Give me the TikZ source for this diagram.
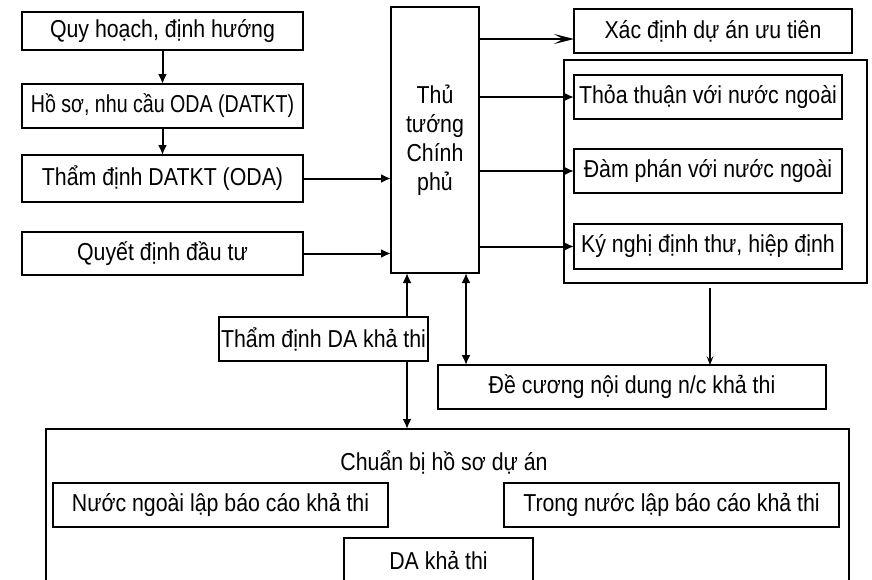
\documentclass[tikz,border=0pt]{standalone}
\usepackage{fontspec}
\usepackage{graphicx}
\setmainfont[FakeStretch=0.87]{Liberation Sans}
\usetikzlibrary{arrows.meta}
\begin{document}
\begin{tikzpicture}[x=1pt,y=-1pt,
  box/.style={draw, line width=2pt, fill=white, inner sep=1pt, outer sep=0pt,
    font=\fontsize{24.5}{29}\selectfont},
  txt/.style={inner sep=0pt, font=\fontsize{24.5}{29}\selectfont},
  arr/.style={line width=2pt, -{Latex[length=10pt,width=9pt]}},
  darr/.style={line width=2pt, {Latex[length=10pt,width=9pt]}-{Latex[length=10pt,width=9pt]}},
  openarr/.style={line width=2pt, -{Stealth[length=20pt,width=10pt,inset=9pt]}},
  thinarr/.style={line width=1.2pt, -{Stealth[length=9pt,width=7pt,inset=4pt]}}]
\fill[white] (0,0) rectangle (872,579);
\useasboundingbox (0,0) rectangle (872,579);
\clip (0,0) rectangle (872,579);

% left column
\node[box, minimum width=281pt, minimum height=38pt] (quy) at (162.5,31) {Quy hoạch, định hướng};
\node[box, minimum width=281pt, minimum height=44pt] (hoso) at (162.5,106) {\scalebox{0.92}[1]{Hồ sơ, nhu cầu ODA (DATKT)}};
\node[box, minimum width=281pt, minimum height=47pt] (tdk) at (162.5,178.5) {Thẩm định DATKT (ODA)};
\node[box, minimum width=281pt, minimum height=43pt] (qd) at (162.5,253.5) {Quyết định đầu tư};

% center
\node[box, minimum width=88pt, minimum height=266pt, align=center] (tt) at (435,140) {Thủ\\tướng\\Chính\\phủ};

% right column
\node[box, minimum width=278pt, minimum height=44pt] (xd) at (713,31) {Xác định dự án ưu tiên};
\node[box, minimum width=303pt, minimum height=223pt] (big) at (715.5,171.5) {};
\node[box, minimum width=268pt, minimum height=44pt] (thoa) at (708,97) {Thỏa thuận với nước ngoài};
\node[box, minimum width=268pt, minimum height=44pt] (dam) at (708,171) {Đàm phán với nước ngoài};
\node[box, minimum width=268pt, minimum height=45pt] (ky) at (708,246.5) {Ký nghị định thư, hiệp định};

% lower
\node[box, minimum width=209pt, minimum height=44pt] (tdda) at (323.5,339) {Thẩm định DA khả thi};
\node[box, minimum width=388pt, minimum height=44pt] (dc) at (632,387) {Đề cương nội dung n/c khả thi};
\node[box, minimum width=803pt, minimum height=171pt] (bot) at (447.5,514.5) {};
\node[txt] (cb) at (444,462) {Chuẩn bị hồ sơ dự án};
\node[box, minimum width=335pt, minimum height=44pt] (nn) at (220.5,505) {Nước ngoài lập báo cáo khả thi};
\node[box, minimum width=335pt, minimum height=44pt] (tn) at (671.5,505) {Trong nước lập báo cáo khả thi};
\node[box, minimum width=189pt, minimum height=44pt] (da) at (438.5,560) {DA khả thi};

% connectors
\draw[arr] (quy) -- (hoso);
\draw[arr] (hoso) -- (tdk);
\draw[arr] (tdk.east) -- (tdk.east -| tt.west);
\draw[arr] (qd.east) -- (qd.east -| tt.west);

\coordinate (xa) at ([yshift=-8pt]xd.west);
\draw[openarr] (tt.east |- xa) -- (xa);
\draw[arr] (tt.east |- thoa.west) -- (thoa.west);
\draw[arr] (tt.east |- dam.west) -- (dam.west);
\draw[arr] (tt.east |- ky.west) -- (ky.west);

\coordinate (vl) at ([xshift=-28pt]tt.south);
\draw[arr] (vl |- tdda.north) -- (vl);
\draw[arr] (vl |- tdda.south) -- (vl |- bot.north);

\coordinate (vr) at ([xshift=31pt]tt.south);
\draw[darr] (vr) -- (vr |- dc.north);

\coordinate (vb) at ([xshift=-5.5pt,yshift=-5pt]big.south);
\draw[thinarr] (vb) -- (vb |- dc.north);
\end{tikzpicture}
\end{document}
